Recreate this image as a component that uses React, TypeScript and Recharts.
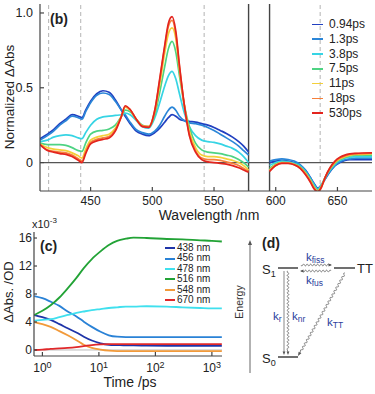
import React from "react";
import { Legend, Line, LineChart, ReferenceLine, XAxis, YAxis } from "recharts";

// panel (b): transient spectra, short and long wavelength windows
const wlShort = [409, 415, 420, 425, 430, 435, 440, 443, 446, 450, 455, 460, 465, 470, 475, 478, 482, 487, 492, 497, 502, 506, 510, 513, 516, 519, 522, 526, 530, 535, 540, 545, 550, 555, 560, 565, 570, 574, 578];
const wlLong = [595, 600, 605, 610, 615, 620, 624, 628, 631, 634, 637, 640, 644, 648, 652, 656, 660, 665, 670, 678];

const s094Short = [0.16, 0.19, 0.22, 0.26, 0.29, 0.32, 0.31, 0.30, 0.35, 0.41, 0.46, 0.48, 0.47, 0.42, 0.35, 0.31, 0.26, 0.21, 0.19, 0.18, 0.20, 0.23, 0.27, 0.30, 0.32, 0.31, 0.29, 0.28, 0.275, 0.27, 0.26, 0.25, 0.235, 0.215, 0.195, 0.17, 0.14, 0.11, 0.07];
const s13Short = [0.15, 0.18, 0.21, 0.25, 0.28, 0.31, 0.30, 0.29, 0.34, 0.40, 0.45, 0.465, 0.455, 0.41, 0.35, 0.32, 0.27, 0.22, 0.20, 0.19, 0.21, 0.25, 0.31, 0.35, 0.37, 0.35, 0.31, 0.28, 0.265, 0.26, 0.25, 0.235, 0.215, 0.19, 0.165, 0.14, 0.11, 0.08, 0.05];
const s38Short = [0.14, 0.15, 0.17, 0.18, 0.185, 0.18, 0.165, 0.16, 0.20, 0.25, 0.29, 0.305, 0.31, 0.315, 0.32, 0.33, 0.32, 0.28, 0.24, 0.23, 0.30, 0.40, 0.51, 0.58, 0.61, 0.56, 0.46, 0.33, 0.24, 0.18, 0.15, 0.14, 0.135, 0.125, 0.11, 0.095, 0.07, 0.04, 0.0];
const s75Short = [0.13, 0.12, 0.12, 0.12, 0.115, 0.10, 0.08, 0.075, 0.13, 0.19, 0.21, 0.215, 0.225, 0.25, 0.31, 0.35, 0.34, 0.29, 0.25, 0.24, 0.32, 0.47, 0.64, 0.76, 0.81, 0.74, 0.58, 0.38, 0.24, 0.13, 0.085, 0.07, 0.065, 0.06, 0.05, 0.04, 0.02, 0.0, -0.03];
const s11Short = [0.125, 0.10, 0.09, 0.085, 0.08, 0.065, 0.045, 0.03, 0.09, 0.15, 0.17, 0.18, 0.19, 0.23, 0.31, 0.37, 0.35, 0.29, 0.245, 0.24, 0.34, 0.52, 0.73, 0.86, 0.90, 0.83, 0.62, 0.38, 0.21, 0.10, 0.05, 0.04, 0.04, 0.035, 0.025, 0.015, 0.0, -0.02, -0.05];
const s18Short = [0.12, 0.085, 0.075, 0.07, 0.065, 0.05, 0.025, 0.01, 0.07, 0.135, 0.155, 0.165, 0.175, 0.22, 0.31, 0.375, 0.355, 0.29, 0.245, 0.24, 0.35, 0.55, 0.77, 0.91, 0.95, 0.86, 0.64, 0.38, 0.19, 0.08, 0.03, 0.02, 0.02, 0.015, 0.005, -0.005, -0.02, -0.04, -0.06];
const s530Short = [0.12, 0.08, 0.07, 0.06, 0.055, 0.04, 0.015, 0.0, 0.06, 0.125, 0.145, 0.155, 0.165, 0.21, 0.31, 0.38, 0.355, 0.29, 0.24, 0.235, 0.35, 0.56, 0.78, 0.93, 0.975, 0.88, 0.65, 0.38, 0.18, 0.07, 0.02, 0.005, 0.0, -0.005, -0.01, -0.02, -0.035, -0.05, -0.065];

const s094Long = [0.0, 0.01, 0.015, 0.01, 0.0, -0.02, -0.05, -0.10, -0.14, -0.17, -0.15, -0.11, -0.06, -0.02, 0.0, 0.015, 0.02, 0.02, 0.02, 0.02];
const s13Long = [0.01, 0.02, 0.025, 0.02, 0.01, -0.015, -0.05, -0.10, -0.14, -0.175, -0.15, -0.11, -0.06, -0.02, 0.005, 0.02, 0.025, 0.03, 0.03, 0.03];
const s38Long = [-0.02, 0.0, 0.01, 0.005, -0.005, -0.025, -0.06, -0.11, -0.15, -0.18, -0.15, -0.10, -0.05, -0.01, 0.015, 0.03, 0.035, 0.04, 0.04, 0.04];
const s75Long = [-0.04, -0.01, 0.0, 0.0, -0.01, -0.03, -0.065, -0.115, -0.16, -0.185, -0.155, -0.10, -0.045, -0.005, 0.02, 0.035, 0.045, 0.05, 0.05, 0.05];
const s11Long = [-0.05, -0.015, 0.0, -0.002, -0.012, -0.035, -0.07, -0.12, -0.165, -0.19, -0.16, -0.10, -0.04, 0.0, 0.025, 0.04, 0.05, 0.055, 0.055, 0.06];
const s18Long = [-0.055, -0.02, -0.002, -0.004, -0.014, -0.038, -0.075, -0.125, -0.17, -0.195, -0.165, -0.10, -0.035, 0.005, 0.03, 0.045, 0.055, 0.06, 0.06, 0.065];
const s530Long = [-0.06, -0.02, -0.005, -0.005, -0.015, -0.04, -0.08, -0.13, -0.175, -0.195, -0.165, -0.10, -0.035, 0.01, 0.035, 0.05, 0.058, 0.062, 0.064, 0.065];

const specTicksX = [450, 500, 550, 600, 650];
const specTicksY = [0, 0.5, 1];
const dashedWl = [416, 442, 542, 636];

// panel (c): kinetics
const times = [0.72, 1, 1.4, 2, 2.8, 4, 5.4, 7.5, 10.7, 15, 21, 30, 41, 70, 160, 300, 620, 1000, 1500];
const k438 = [5.0, 4.7, 4.3, 3.7, 3.1, 2.5, 1.9, 1.35, 0.95, 0.75, 0.7, 0.65, 0.65, 0.62, 0.6, 0.6, 0.6, 0.6, 0.6];
const k456 = [7.7, 7.4, 6.9, 6.3, 5.5, 4.8, 4.05, 3.3, 2.6, 2.1, 1.9, 1.85, 1.85, 1.85, 1.85, 1.85, 1.85, 1.85, 1.85];
const k478 = [4.2, 4.3, 4.4, 4.7, 5.0, 5.3, 5.5, 5.7, 5.85, 6.0, 6.1, 6.2, 6.2, 6.25, 6.2, 6.1, 6.0, 5.95, 5.95];
const k516 = [5.0, 5.6, 6.4, 7.5, 8.8, 10.3, 11.7, 13.0, 14.1, 15.0, 15.6, 15.9, 16.05, 16.0, 15.86, 15.8, 15.67, 15.6, 15.5];
const k548 = [4.0, 3.7, 3.3, 2.7, 2.1, 1.4, 0.75, 0.3, 0.05, -0.1, -0.15, -0.15, -0.15, -0.15, -0.15, -0.15, -0.15, -0.15, -0.15];
const k670 = [0.0, 0.05, 0.15, 0.22, 0.3, 0.42, 0.55, 0.7, 0.8, 0.85, 0.85, 0.85, 0.85, 0.85, 0.85, 0.85, 0.85, 0.85, 0.85];

const kinTicksX = [1, 10, 100, 1000];
const kinTicksY = [0, 2, 4, 6, 8, 10, 12, 14, 16];

const delays = [
  { key: "d094", name: "0.94ps", color: "#2140c0", short: s094Short, long: s094Long },
  { key: "d13", name: "1.3ps", color: "#2b86d8", short: s13Short, long: s13Long },
  { key: "d38", name: "3.8ps", color: "#36d4e4", short: s38Short, long: s38Long },
  { key: "d75", name: "7.5ps", color: "#4ed383", short: s75Short, long: s75Long },
  { key: "d11", name: "11ps", color: "#f4d03a", short: s11Short, long: s11Long },
  { key: "d18", name: "18ps", color: "#f7803a", short: s18Short, long: s18Long },
  { key: "d530", name: "530ps", color: "#e3241e", short: s530Short, long: s530Long },
];

const probes = [
  { key: "p438", name: "438 nm", color: "#1f34a8", values: k438 },
  { key: "p456", name: "456 nm", color: "#2a82d6", values: k456 },
  { key: "p478", name: "478 nm", color: "#40e0ee", values: k478 },
  { key: "p516", name: "516 nm", color: "#22a336", values: k516 },
  { key: "p548", name: "548 nm", color: "#f29a3a", values: k548 },
  { key: "p670", name: "670 nm", color: "#e0282a", values: k670 },
];

const specRows = [
  ...wlShort.map((w, i) => {
    const r: any = { w };
    delays.forEach((d) => (r[d.key] = d.short[i]));
    return r;
  }),
  { w: 586 },
  ...wlLong.map((w, i) => {
    const r: any = { w };
    delays.forEach((d) => (r[d.key] = d.long[i]));
    return r;
  }),
];

const kinRows = times.map((t, i) => {
  const r: any = { t };
  probes.forEach((p) => (r[p.key] = p.values[i]));
  return r;
});

const FRAME = "#444";
const TXT = "#222";
const BLUE = "#2b3d9c";
const noTick = () => <g />;

function PowTick({ x, y, payload }: any) {
  const e = Math.round(Math.log10(payload.value));
  return (
    <text x={x} y={y} textAnchor="middle" fill={TXT} fontSize={12}>
      <tspan dy="0.85em">10</tspan>
      <tspan dy="-0.5em" fontSize={9}>{e}</tspan>
    </text>
  );
}

function SpecLegend() {
  return (
    <div style={{ fontSize: 12, color: TXT, lineHeight: "14.8px" }}>
      {delays.map((d) => (
        <div key={d.key} style={{ display: "flex", alignItems: "center", height: 14.8 }}>
          <span style={{ width: 11, height: 1.6, background: d.color, marginRight: 6 }} />
          <span>{d.name}</span>
        </div>
      ))}
    </div>
  );
}

function KinLegend() {
  return (
    <div style={{ fontSize: 10, color: TXT, lineHeight: "10.4px" }}>
      {probes.map((p) => (
        <div key={p.key} style={{ display: "flex", alignItems: "center", height: 10.4 }}>
          <span style={{ width: 10, height: 2, background: p.color, marginRight: 2 }} />
          <span>{p.name}</span>
        </div>
      ))}
    </div>
  );
}

function wavy(x1: number, y1: number, x2: number, y2: number, amp = 1.4, period = 4) {
  const dx = x2 - x1, dy = y2 - y1, len = Math.hypot(dx, dy);
  const ux = dx / len, uy = dy / len, nx = -uy, ny = ux;
  const waveLen = len - 3;
  const n = Math.ceil(waveLen / 0.4);
  let d = `M${x1},${y1}`;
  for (let i = 1; i <= n; i++) {
    const s = (waveLen * i) / n;
    const o = amp * Math.sin((2 * Math.PI * s) / period);
    d += ` L${(x1 + ux * s + nx * o).toFixed(2)},${(y1 + uy * s + ny * o).toFixed(2)}`;
  }
  d += ` L${x2},${y2}`;
  return d;
}

function head(x1: number, y1: number, x2: number, y2: number, size = 4) {
  const len = Math.hypot(x2 - x1, y2 - y1);
  const ux = (x2 - x1) / len, uy = (y2 - y1) / len;
  const bx = x2 - ux * size, by = y2 - uy * size;
  const w = size * 0.4;
  return `${x2},${y2} ${bx - uy * w},${by + ux * w} ${bx + uy * w},${by - ux * w}`;
}

function K({ x, y, sub }: { x: number; y: number; sub: string }) {
  return (
    <text x={x} y={y} fill={BLUE} fontSize={11.5}>
      k<tspan fontSize={8.5} dy={2}>{sub}</tspan>
    </text>
  );
}

function Diagram() {
  return (
    <svg width={375} height={394} style={{ position: "absolute", left: 0, top: 0, pointerEvents: "none" }}>
      {/* axis titles and panel letters */}
      <text x={14} y={97} transform="rotate(-90 14 97)" textAnchor="middle" fontSize={13.5} fill={TXT}>Normalized ΔAbs</text>
      <text x={209} y={220} textAnchor="middle" fontSize={14} fill={TXT}>Wavelength /nm</text>
      <text x={50} y={24} fontSize={14} fontWeight="bold" fill={TXT}>(b)</text>
      <text x={32} y={228} fontSize={11} fill={TXT}>x10<tspan fontSize={8} dy={-5}>-3</tspan></text>
      <text x={40} y={251} fontSize={14} fontWeight="bold" fill={TXT}>(c)</text>
      <text x={13} y={292} transform="rotate(-90 13 292)" textAnchor="middle" fontSize={13} fill={TXT}>ΔAbs. /OD</text>
      <text x={130} y={387} textAnchor="middle" fontSize={14} fill={TXT}>Time /ps</text>

      {/* (d) energy scheme */}
      <line x1={250} y1={373} x2={250} y2={244} stroke="#555" strokeWidth={0.9} />
      <polygon points={head(250, 373, 250, 240, 5)} fill="#555" />
      <text x={243} y={302} transform="rotate(-90 243 302)" textAnchor="middle" fontSize={10.5} fill="#333">Energy</text>
      <text x={262} y={248} fontSize={14} fontWeight="bold" fill={TXT}>(d)</text>

      <line x1={278} y1={268} x2={298} y2={268} stroke="#333" strokeWidth={1.4} />
      <line x1={334} y1={268} x2={355} y2={268} stroke="#333" strokeWidth={1.4} />
      <line x1={278} y1={357} x2={298} y2={357} stroke="#333" strokeWidth={1.4} />
      <text x={262} y={274} fontSize={13} fill={TXT}>S<tspan fontSize={9} dy={3}>1</tspan></text>
      <text x={262} y={363} fontSize={13} fill={TXT}>S<tspan fontSize={9} dy={3}>0</tspan></text>
      <text x={357} y={273} fontSize={13} fill={TXT}>TT</text>

      <path d={wavy(301, 265, 331, 265, 1, 3.5)} fill="none" stroke="#555" strokeWidth={0.7} />
      <polygon points={head(301, 265, 332, 265, 3.5)} fill="#555" />
      <path d={wavy(331, 271, 301, 271, 1, 3.5)} fill="none" stroke="#555" strokeWidth={0.7} />
      <polygon points={head(331, 271, 300, 271, 3.5)} fill="#555" />
      <K x={306} y={261} sub="fiss" />
      <K x={306} y={284} sub="fus" />

      <line x1={284} y1={271} x2={284} y2={352} stroke="#555" strokeWidth={0.7} />
      <polygon points={head(284, 271, 284, 355, 3.5)} fill="#555" />
      <path d={wavy(288, 271, 288, 352, 1, 3.5)} fill="none" stroke="#555" strokeWidth={0.7} />
      <polygon points={head(288, 271, 288, 355, 3.5)} fill="#555" />
      <K x={273} y={320} sub="r" />
      <K x={292} y={320} sub="nr" />

      <path d={wavy(345, 273, 300, 353, 1, 4)} fill="none" stroke="#555" strokeWidth={0.7} />
      <polygon points={head(345, 273, 298, 356, 4)} fill="#555" />
      <K x={327} y={326} sub="TT" />
    </svg>
  );
}

export default function App() {
  return (
    <div style={{ position: "absolute", left: 0, top: 0, width: 375, height: 394, background: "#fff", fontFamily: "'Liberation Sans', Arial, sans-serif" }}>
      <div style={{ position: "absolute", left: 0, top: 0 }}>
        <LineChart width={375} height={222} data={specRows} margin={{ top: 4, right: 3, bottom: 0, left: 0 }}>
          <XAxis dataKey="w" type="number" domain={[409, 678]} ticks={specTicksX} allowDataOverflow height={31}
            stroke={FRAME} strokeWidth={1.2} tickSize={-4} tickMargin={9} tick={{ fill: TXT, fontSize: 12 }} />
          <XAxis xAxisId="top" orientation="top" dataKey="w" type="number" domain={[409, 678]} ticks={specTicksX}
            allowDataOverflow height={0} stroke={FRAME} strokeWidth={1.2} tickSize={-4} tick={noTick} />
          <YAxis type="number" domain={[-0.19, 1.06]} ticks={specTicksY} allowDataOverflow width={40}
            tickFormatter={(v: number) => (v === 0 ? "0" : v.toFixed(1))}
            stroke={FRAME} strokeWidth={1.2} tickSize={-4} tickMargin={11} tick={{ fill: TXT, fontSize: 12.5 }} />
          <YAxis yAxisId="right" orientation="right" type="number" domain={[-0.19, 1.06]} ticks={specTicksY}
            allowDataOverflow width={0} stroke={FRAME} strokeWidth={1.2} tickSize={-4} tick={noTick} />
          {dashedWl.map((w) => (
            <ReferenceLine key={w} x={w} stroke="#aaa" strokeDasharray="4 3" strokeWidth={0.9} />
          ))}
          <ReferenceLine y={0} stroke="#555" strokeWidth={1.4} />
          <ReferenceLine x={578} stroke={FRAME} strokeWidth={1.4} />
          <ReferenceLine x={595} stroke={FRAME} strokeWidth={1.4} />
          {delays.map((d) => (
            <Line key={d.key} dataKey={d.key} name={d.name} stroke={d.color} strokeWidth={1.7}
              type="monotone" dot={false} isAnimationActive={false} />
          ))}
          <Legend layout="vertical" align="center" verticalAlign="middle" content={SpecLegend}
            wrapperStyle={{ left: 312, top: 17, width: 60, height: 110 }} />
        </LineChart>
      </div>

      <div style={{ position: "absolute", left: 0, top: 225 }}>
        <LineChart width={230} height={150} data={kinRows} margin={{ top: 7, right: 8, bottom: 0, left: 0 }}>
          <XAxis dataKey="t" type="number" scale="log" domain={[0.71, 1510]} ticks={kinTicksX} allowDataOverflow
            height={19} stroke={FRAME} strokeWidth={1.2} tickSize={-4} tickMargin={10} tick={PowTick} />
          <XAxis xAxisId="top" orientation="top" dataKey="t" type="number" scale="log" domain={[0.71, 1510]}
            ticks={kinTicksX} allowDataOverflow height={0} stroke={FRAME} strokeWidth={1.2} tickSize={-4} tick={noTick} />
          <YAxis type="number" domain={[-0.86, 16.86]} ticks={kinTicksY} allowDataOverflow width={34}
            stroke={FRAME} strokeWidth={1.2} tickSize={-3} tickMargin={5} tick={{ fill: TXT, fontSize: 12 }} />
          <YAxis yAxisId="right" orientation="right" type="number" domain={[-0.86, 16.86]} ticks={kinTicksY}
            allowDataOverflow width={0} stroke={FRAME} strokeWidth={1.2} tickSize={-3} tick={noTick} />
          <ReferenceLine y={0} stroke="#bbb" strokeWidth={1} />
          {probes.map((p) => (
            <Line key={p.key} dataKey={p.key} name={p.name} stroke={p.color} strokeWidth={1.8}
              type="monotone" dot={false} isAnimationActive={false} />
          ))}
          <Legend layout="vertical" align="center" verticalAlign="middle" content={KinLegend}
            wrapperStyle={{ left: 165, top: 18, width: 60, height: 64 }} />
        </LineChart>
      </div>

      <Diagram />
    </div>
  );
}
